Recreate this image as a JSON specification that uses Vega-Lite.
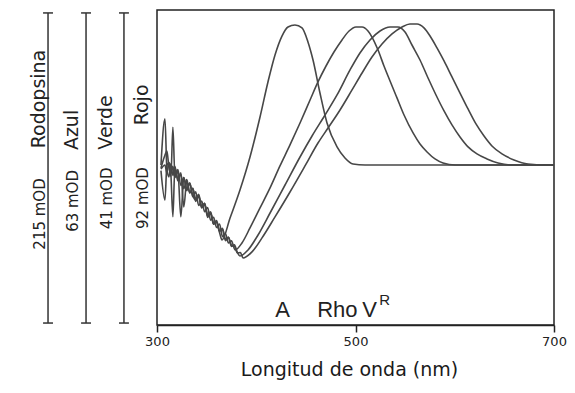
{
"$schema": "https://vega.github.io/schema/vega-lite/v6.json",
"width": 397, "height": 315,
"autosize": {"type": "none"},
"padding": {"left": 157, "top": 10, "right": 21, "bottom": 68},
"background": "white",
"config": {"view": {"stroke": "#222", "strokeWidth": 1.5}},
"datasets": {
"curves": [
{"s":"A","x":304,"y":0.0},{"s":"A","x":308,"y":0.33},{"s":"A","x":310,"y":-0.03},{"s":"A","x":312,"y":-0.085},{"s":"A","x":314,"y":0.01},{"s":"A","x":316,"y":-0.075},{"s":"A","x":318,"y":-0.01},{"s":"A","x":321,"y":-0.113},{"s":"A","x":324,"y":-0.066},{"s":"A","x":327,"y":-0.17},{"s":"A","x":330,"y":-0.104},{"s":"A","x":333,"y":-0.199},{"s":"A","x":336,"y":-0.167},{"s":"A","x":339,"y":-0.261},{"s":"A","x":342,"y":-0.219},{"s":"A","x":345,"y":-0.307},{"s":"A","x":348,"y":-0.274},{"s":"A","x":351,"y":-0.364},{"s":"A","x":354,"y":-0.344},{"s":"A","x":357,"y":-0.423},{"s":"A","x":360,"y":-0.407},{"s":"A","x":363,"y":-0.482},{"s":"A","x":365.5,"y":-0.536},
{"s":"A","x":373.6,"y":-0.379},{"s":"A","x":383.6,"y":-0.179},{"s":"A","x":393.7,"y":0.057},{"s":"A","x":403.8,"y":0.343},{"s":"A","x":411.8,"y":0.593},{"s":"A","x":418.9,"y":0.786},{"s":"A","x":425.9,"y":0.921},{"s":"A","x":432.0,"y":0.986},{"s":"A","x":439.0,"y":1.0},{"s":"A","x":446.1,"y":0.979},{"s":"A","x":452.1,"y":0.879},{"s":"A","x":457.2,"y":0.75},{"s":"A","x":464.2,"y":0.514},{"s":"A","x":471.3,"y":0.3},{"s":"A","x":481.4,"y":0.129},{"s":"A","x":489.4,"y":0.05},{"s":"A","x":497.5,"y":0.007},{"s":"A","x":509.6,"y":0.0},{"s":"A","x":700,"y":0.0},
{"s":"Rho","x":304,"y":-0.04},{"s":"Rho","x":308,"y":-0.25},{"s":"Rho","x":310,"y":0.0},{"s":"Rho","x":312,"y":0.015},{"s":"Rho","x":314,"y":-0.08},{"s":"Rho","x":316,"y":0.27},{"s":"Rho","x":318,"y":-0.07},{"s":"Rho","x":321,"y":-0.033},{"s":"Rho","x":324,"y":-0.146},{"s":"Rho","x":327,"y":-0.09},{"s":"Rho","x":330,"y":-0.184},{"s":"Rho","x":333,"y":-0.129},{"s":"Rho","x":336,"y":-0.227},{"s":"Rho","x":339,"y":-0.191},{"s":"Rho","x":342,"y":-0.289},{"s":"Rho","x":345,"y":-0.257},{"s":"Rho","x":348,"y":-0.334},{"s":"Rho","x":351,"y":-0.304},{"s":"Rho","x":354,"y":-0.394},{"s":"Rho","x":357,"y":-0.373},{"s":"Rho","x":360,"y":-0.447},{"s":"Rho","x":363,"y":-0.422},{"s":"Rho","x":366,"y":-0.512},{"s":"Rho","x":369,"y":-0.491},{"s":"Rho","x":372,"y":-0.557},{"s":"Rho","x":375,"y":-0.542},{"s":"Rho","x":378.6,"y":-0.607},
{"s":"Rho","x":385.6,"y":-0.557},{"s":"Rho","x":393.7,"y":-0.45},{"s":"Rho","x":403.8,"y":-0.307},{"s":"Rho","x":413.9,"y":-0.164},{"s":"Rho","x":423.9,"y":-0.007},{"s":"Rho","x":434.0,"y":0.143},{"s":"Rho","x":444.1,"y":0.3},{"s":"Rho","x":454.2,"y":0.464},{"s":"Rho","x":462.2,"y":0.593},{"s":"Rho","x":470.3,"y":0.707},{"s":"Rho","x":478.3,"y":0.807},{"s":"Rho","x":486.4,"y":0.893},{"s":"Rho","x":493.5,"y":0.957},{"s":"Rho","x":500.5,"y":0.986},{"s":"Rho","x":506.6,"y":0.986},{"s":"Rho","x":512.6,"y":0.957},{"s":"Rho","x":516.6,"y":0.914},{"s":"Rho","x":522.7,"y":0.821},{"s":"Rho","x":528.7,"y":0.707},{"s":"Rho","x":534.8,"y":0.6},{"s":"Rho","x":541.8,"y":0.479},{"s":"Rho","x":548.9,"y":0.357},{"s":"Rho","x":558.0,"y":0.229},{"s":"Rho","x":565.0,"y":0.15},{"s":"Rho","x":572.1,"y":0.093},{"s":"Rho","x":580.1,"y":0.043},{"s":"Rho","x":588.2,"y":0.014},{"s":"Rho","x":600.3,"y":0.0},{"s":"Rho","x":700,"y":0.0},
{"s":"V","x":304,"y":-0.021},{"s":"V","x":308,"y":0.07},{"s":"V","x":310,"y":0.1},{"s":"V","x":312,"y":-0.015},{"s":"V","x":314,"y":-0.06},{"s":"V","x":316,"y":-0.01},{"s":"V","x":318,"y":-0.09},{"s":"V","x":321,"y":-0.043},{"s":"V","x":324,"y":-0.37},{"s":"V","x":327,"y":-0.09},{"s":"V","x":330,"y":-0.174},{"s":"V","x":333,"y":-0.129},{"s":"V","x":336,"y":-0.217},{"s":"V","x":339,"y":-0.251},{"s":"V","x":342,"y":-0.209},{"s":"V","x":345,"y":-0.297},{"s":"V","x":348,"y":-0.274},{"s":"V","x":351,"y":-0.374},{"s":"V","x":354,"y":-0.344},{"s":"V","x":357,"y":-0.423},{"s":"V","x":360,"y":-0.397},{"s":"V","x":363,"y":-0.472},{"s":"V","x":366,"y":-0.452},{"s":"V","x":369,"y":-0.541},{"s":"V","x":372,"y":-0.517},{"s":"V","x":375,"y":-0.582},{"s":"V","x":378,"y":-0.57},{"s":"V","x":381,"y":-0.625},{"s":"V","x":383.6,"y":-0.65},
{"s":"V","x":391.7,"y":-0.607},{"s":"V","x":401.8,"y":-0.5},{"s":"V","x":413.9,"y":-0.343},{"s":"V","x":429.0,"y":-0.143},{"s":"V","x":444.1,"y":0.057},{"s":"V","x":456.2,"y":0.207},{"s":"V","x":469.3,"y":0.357},{"s":"V","x":481.4,"y":0.5},{"s":"V","x":494.5,"y":0.679},{"s":"V","x":504.5,"y":0.8},{"s":"V","x":514.6,"y":0.893},{"s":"V","x":524.7,"y":0.957},{"s":"V","x":534.8,"y":0.986},{"s":"V","x":542.8,"y":0.986},{"s":"V","x":549.9,"y":0.95},{"s":"V","x":556.9,"y":0.857},{"s":"V","x":565.0,"y":0.75},{"s":"V","x":573.1,"y":0.621},{"s":"V","x":581.1,"y":0.5},{"s":"V","x":589.2,"y":0.386},{"s":"V","x":597.2,"y":0.286},{"s":"V","x":605.3,"y":0.2},{"s":"V","x":613.4,"y":0.129},{"s":"V","x":622.4,"y":0.079},{"s":"V","x":632.5,"y":0.043},{"s":"V","x":643.6,"y":0.014},{"s":"V","x":657.7,"y":0.0},{"s":"V","x":700,"y":0.0},
{"s":"R","x":304,"y":-0.03},{"s":"R","x":308,"y":0.0},{"s":"R","x":310,"y":-0.06},{"s":"R","x":312,"y":0.02},{"s":"R","x":314,"y":-0.07},{"s":"R","x":316,"y":-0.37},{"s":"R","x":318,"y":-0.02},{"s":"R","x":321,"y":-0.1},{"s":"R","x":324,"y":-0.056},{"s":"R","x":327,"y":-0.3},{"s":"R","x":330,"y":-0.114},{"s":"R","x":333,"y":-0.199},{"s":"R","x":336,"y":-0.167},{"s":"R","x":339,"y":-0.241},{"s":"R","x":342,"y":-0.229},{"s":"R","x":345,"y":-0.297},{"s":"R","x":348,"y":-0.284},{"s":"R","x":351,"y":-0.354},{"s":"R","x":354,"y":-0.334},{"s":"R","x":357,"y":-0.413},{"s":"R","x":360,"y":-0.407},{"s":"R","x":363,"y":-0.472},{"s":"R","x":366,"y":-0.462},{"s":"R","x":369,"y":-0.531},{"s":"R","x":372,"y":-0.517},{"s":"R","x":375,"y":-0.572},{"s":"R","x":378,"y":-0.58},{"s":"R","x":381,"y":-0.63},{"s":"R","x":384,"y":-0.625},{"s":"R","x":386.7,"y":-0.664},
{"s":"R","x":395.7,"y":-0.621},{"s":"R","x":405.8,"y":-0.521},{"s":"R","x":418.9,"y":-0.371},{"s":"R","x":434.0,"y":-0.193},{"s":"R","x":449.1,"y":-0.007},{"s":"R","x":462.2,"y":0.157},{"s":"R","x":472.3,"y":0.264},{"s":"R","x":484.4,"y":0.393},{"s":"R","x":496.5,"y":0.536},{"s":"R","x":506.6,"y":0.657},{"s":"R","x":516.6,"y":0.771},{"s":"R","x":526.7,"y":0.864},{"s":"R","x":536.8,"y":0.936},{"s":"R","x":546.9,"y":0.986},{"s":"R","x":554.9,"y":1.007},{"s":"R","x":562.0,"y":1.007},{"s":"R","x":569.0,"y":0.979},{"s":"R","x":575.1,"y":0.921},{"s":"R","x":582.1,"y":0.836},{"s":"R","x":589.2,"y":0.743},{"s":"R","x":597.2,"y":0.629},{"s":"R","x":605.3,"y":0.514},{"s":"R","x":613.4,"y":0.4},{"s":"R","x":621.4,"y":0.293},{"s":"R","x":629.5,"y":0.207},{"s":"R","x":637.5,"y":0.136},{"s":"R","x":647.6,"y":0.079},{"s":"R","x":659.7,"y":0.036},{"s":"R","x":673.8,"y":0.007},{"s":"R","x":691.0,"y":0.0},{"s":"R","x":700,"y":0.0}
],
"bars": [
{"x":190.2,"y":1.086,"y2":-1.129},{"x":228.5,"y":1.086,"y2":-1.129},{"x":266.7,"y":1.086,"y2":-1.129}
],
"serifs": [
{"x":185.2,"x2":195.2,"y":1.086},{"x":185.2,"x2":195.2,"y":-1.129},
{"x":223.5,"x2":233.5,"y":1.086},{"x":223.5,"x2":233.5,"y":-1.129},
{"x":261.7,"x2":271.7,"y":1.086},{"x":261.7,"x2":271.7,"y":-1.129}
],
"names": [
{"x":187.1,"y":0.471,"t":"Rodopsina"},{"x":220.4,"y":0.25,"t":"Azul"},{"x":254.7,"y":0.304,"t":"Verde"},{"x":290.9,"y":0.429,"t":"Rojo"}
],
"scales": [
{"x":187.1,"y":-0.35,"t":"215 mOD"},{"x":220.4,"y":-0.257,"t":"63 mOD"},{"x":254.7,"y":-0.239,"t":"41 mOD"},{"x":290.9,"y":-0.236,"t":"92 mOD"}
],
"tags": [
{"x":426.5,"y":-1.086,"t":"A"},{"x":481.7,"y":-1.086,"t":"Rho"},{"x":514.3,"y":-1.086,"t":"V"}
],
"sup": [
{"x":529.4,"y":-1.0,"t":"R"}
]
},
"encoding": {
"x": {"field":"x","type":"quantitative","scale":{"domain":[300,700],"nice":false,"zero":false},
"axis":{"values":[300,500,700],"grid":false,"labelFlush":false,"labelOverlap":false,"title":"Longitud de onda (nm)","titleFont":"DejaVu Sans","titleFontSize":19,"titleFontWeight":"normal","titleColor":"#1a1a1a","titlePadding":12,"titleX":192,"labelFont":"DejaVu Sans","labelFontSize":13,"labelColor":"#222","labelPadding":3,"tickSize":7,"tickColor":"#222","tickWidth":1.5,"domainColor":"#222","domainWidth":1.5}},
"y": {"field":"y","type":"quantitative","scale":{"domain":[-1.143,1.107],"nice":false,"zero":false},"axis":null}
},
"layer": [
{"data":{"name":"curves"},"mark":{"type":"line","stroke":"#474747","strokeWidth":1.6,"interpolate":"monotone"},"encoding":{"detail":{"field":"s"}}},
{"data":{"name":"bars"},"mark":{"type":"rule","stroke":"#333","strokeWidth":1.5},"encoding":{"y2":{"field":"y2"}}},
{"data":{"name":"serifs"},"mark":{"type":"rule","stroke":"#333","strokeWidth":1.5},"encoding":{"x2":{"field":"x2"}}},
{"data":{"name":"names"},"mark":{"type":"text","angle":270,"align":"center","baseline":"alphabetic","font":"DejaVu Sans","fontSize":19,"fill":"#222"},"encoding":{"text":{"field":"t"}}},
{"data":{"name":"scales"},"mark":{"type":"text","angle":270,"align":"center","baseline":"alphabetic","font":"DejaVu Sans","fontSize":15,"fill":"#222"},"encoding":{"text":{"field":"t"}}},
{"data":{"name":"tags"},"mark":{"type":"text","align":"center","baseline":"alphabetic","font":"Liberation Sans","fontSize":22,"fill":"#222"},"encoding":{"text":{"field":"t"}}},
{"data":{"name":"sup"},"mark":{"type":"text","align":"center","baseline":"alphabetic","font":"Liberation Sans","fontSize":15,"fill":"#222"},"encoding":{"text":{"field":"t"}}}
]
}
